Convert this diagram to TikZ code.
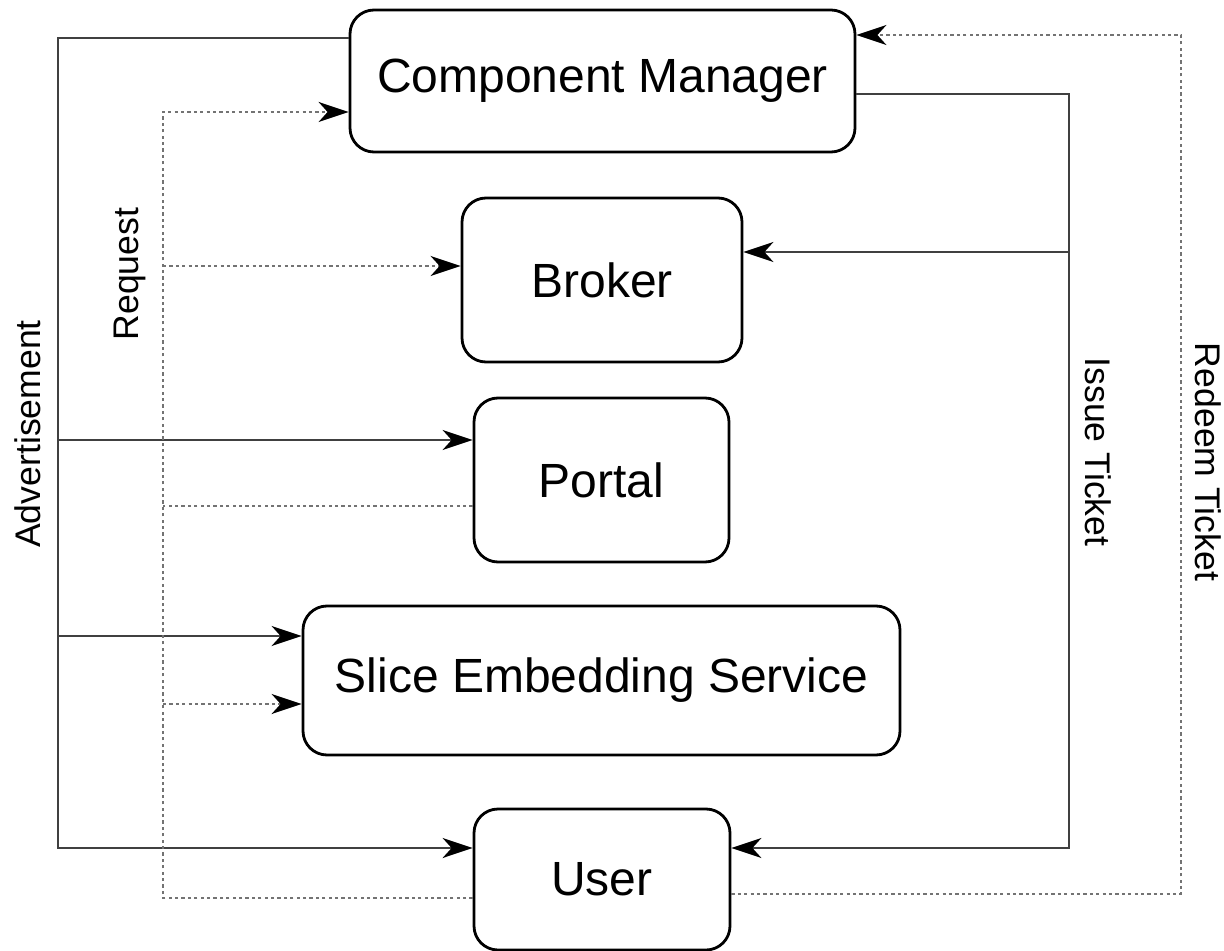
\documentclass[tikz,border=0pt]{standalone}
\usepackage{fontspec}
\setmainfont{Liberation Sans}
\usetikzlibrary{arrows.meta, positioning, calc}
\tikzset{
  component/.style={rectangle, rounded corners=12pt, inner sep=0pt, text centered, draw=black, fill=white, line width=1.4pt, font=\fontsize{24}{28}\selectfont},
  flow/.style={line width=1.1pt, draw=black!75},
  dotflow/.style={line width=1.1pt, draw=black!55, dash pattern=on 1.6pt off 1.6pt},
  arrow/.style={-{Stealth[length=15pt, width=10pt, inset=4.5pt, black]}},
  linklabel/.style={font=\fontsize{17.8}{20}\selectfont, inner sep=0pt}
}
\begin{document}
\begin{tikzpicture}[x=0.5pt, y=-0.5pt]
  \useasboundingbox (0,0) rectangle (1224,951);

  % Components
  \node (cm) [component, minimum width=252.5pt, minimum height=71pt] at (602.5,81) {Component Manager};
  \node (broker) [component, minimum width=140pt, minimum height=82pt] at (602,280) {Broker};
  \node (portal) [component, minimum width=127.5pt, minimum height=82pt] at (601.5,480) {Portal};
  \node (ses) [component, minimum width=298.5pt, minimum height=74.5pt] at (601.5,680.5) {Slice Embedding Service};
  \node (user) [component, minimum width=128pt, minimum height=70.5pt] at (602,879.5) {User};

  % Bus corners
  \coordinate (advtop) at (58,38);
  \coordinate (advbot) at (58,848);
  \coordinate (reqtop) at (163,112);
  \coordinate (reqbot) at (163,898);
  \coordinate (issuetop) at (1069,94);
  \coordinate (issuebot) at (1069,848);
  \coordinate (redeemtop) at (1181,35);
  \coordinate (redeembot) at (1181,894);

  % Advertisement
  \draw [flow, arrow] (cm.west |- advtop) -- (advtop) -- (advbot) -- (user.west |- advbot);
  \coordinate (advportal) at (58,440);
  \coordinate (advses) at (58,636);
  \draw [flow, arrow] (advportal) -- (portal.west |- advportal);
  \draw [flow, arrow] (advses) -- (ses.west |- advses);

  % Request
  \draw [dotflow, arrow] (user.west |- reqbot) -- (reqbot) -- (reqtop) -- (cm.west |- reqtop);
  \coordinate (reqbroker) at (163,266);
  \coordinate (reqportal) at (163,506);
  \coordinate (reqses) at (163,704);
  \draw [dotflow, arrow] (reqbroker) -- (broker.west |- reqbroker);
  \draw [dotflow] (portal.west |- reqportal) -- (reqportal);
  \draw [dotflow, arrow] (reqses) -- (ses.west |- reqses);

  % Issue Ticket
  \draw [flow, arrow] (cm.east |- issuetop) -- (issuetop) -- (issuebot) -- (user.east |- issuebot);
  \coordinate (issuebroker) at (1069,252);
  \draw [flow, arrow] (issuebroker) -- (broker.east |- issuebroker);

  % Redeem Ticket
  \draw [dotflow, arrow] (user.east |- redeembot) -- (redeembot) -- (redeemtop) -- (cm.east |- redeemtop);

  % Labels
  \node (advlabel) [linklabel, rotate=90] at (28,434) {Advertisement};
  \node (reqlabel) [linklabel, rotate=90] at (130,274) {Request};
  \node (issuelabel) [linklabel, rotate=-90] at (1098,452) {Issue Ticket};
  \node (redeemlabel) [linklabel, rotate=-90] at (1208,462) {Redeem Ticket};

\end{tikzpicture}
\end{document}
